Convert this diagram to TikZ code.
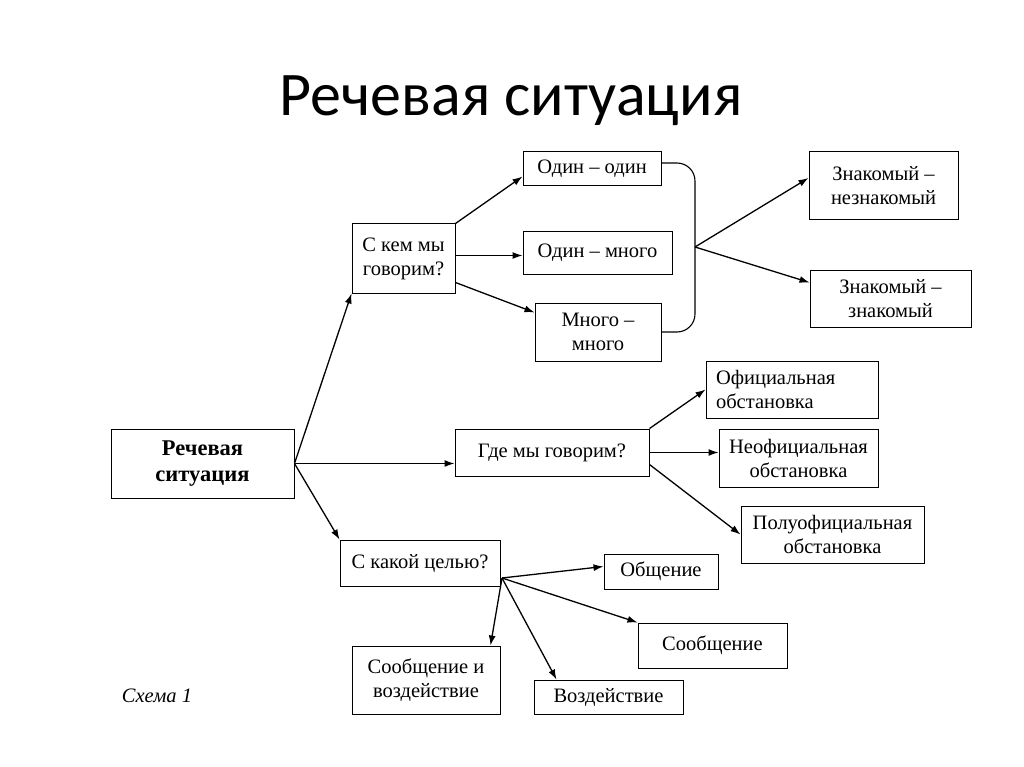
\documentclass[tikz,border=0pt]{standalone}
\usepackage{fontspec}
\setmainfont{Liberation Serif}
\newfontfamily\titlefont{Carlito}
\usetikzlibrary{arrows.meta,calc}
\begin{document}
\begin{tikzpicture}[x=1pt,y=-1pt,
  bx/.style={draw, line width=1pt, inner sep=2pt, align=center, font=\fontsize{20.5}{24}\selectfont},
  arr/.style={line width=1.3pt, -{Latex[length=10pt,width=7pt]}},
  ln/.style={line width=1.2pt}]
\useasboundingbox[fill=white] (0,0) rectangle (1024,767);
\node[font=\titlefont\fontsize{62}{70}\selectfont, anchor=base] (title) at (511,116) {Речевая ситуация};
\node[bx, minimum width=183pt, minimum height=69pt, font=\bfseries\fontsize{22.5}{26}\selectfont] (root) at (202.5,463.5) {Речевая\\ситуация};
\node[bx, minimum width=103pt, minimum height=69pt] (kem) at (403.5,258.5) {С кем мы\\говорим?};
\node[bx, minimum width=138pt, minimum height=34pt] (o1) at (592,169) {Один – один};
\node[bx, minimum width=149pt, minimum height=42pt] (o2) at (597.5,253) {Один – много};
\node[bx, minimum width=126pt, minimum height=58pt] (o3) at (598,332) {Много –\\много};
\node[bx, minimum width=149pt, minimum height=68pt] (z1) at (883.5,186) {Знакомый –\\незнакомый};
\node[bx, minimum width=161pt, minimum height=57pt] (z2) at (890.5,298.5) {Знакомый –\\знакомый};
\node[bx, minimum width=194pt, minimum height=47pt] (gde) at (552,452.5) {Где мы говорим?};
\node[bx, align=left, text width=152pt, inner xsep=10pt, minimum height=57pt] (of1) at (792,389.5) {Официальная\\обстановка};
\node[bx, minimum width=159pt, minimum height=58pt] (of2) at (798.5,458) {Неофициальная\\обстановка};
\node[bx, minimum width=183pt, minimum height=57pt] (of3) at (832.5,534.5) {Полуофициальная\\обстановка};
\node[bx, minimum width=160pt, minimum height=46pt] (cel) at (420,563) {С какой целью?};
\node[bx, minimum width=114pt, minimum height=35pt] (ob) at (661,571.5) {Общение};
\node[bx, minimum width=149pt, minimum height=45pt] (so) at (712.5,645.5) {Сообщение};
\node[bx, minimum width=148pt, minimum height=68pt] (siv) at (426,680) {Сообщение и\\воздействие};
\node[bx, minimum width=149pt, minimum height=34pt] (vo) at (608.5,697) {Воздействие};
\node[font=\itshape\fontsize{20.5}{24}\selectfont] (sch) at (157,696) {Схема 1};
% root connectors
\draw[arr] (root.east) -- (kem.south west);
\draw[arr] (root.east) -- (root.east -| gde.west);
\draw[arr] (root.east) -- (cel.north west);
% kem connectors
\draw[arr] (kem.north east) -- ([yshift=10pt]o1.south west);
\draw[arr] ([yshift=3pt]kem.east) -- ([yshift=3pt]kem.east -| o2.west);
\draw[arr] ([yshift=11pt]kem.south east) -- ([yshift=-10pt]o3.north west);
% bracket
\coordinate (br) at (695,247);
\draw[line width=1.1pt, rounded corners=18pt] ([yshift=6pt]o1.east) -- ([yshift=6pt]o1.east -| br) -- (o3.east -| br) -- (o3.east);
\draw[arr] (br) -- ([yshift=8pt]z1.west);
\draw[arr] (br) -- ([yshift=16pt]z2.west);
% gde connectors
\draw[arr] (gde.north east) -- (of1.west);
\draw[arr] (gde.east) -- (gde.east -| of2.west);
\draw[arr] ([yshift=-12pt]gde.east) -- (of3.west);
% cel connectors
\coordinate (ch) at (502,578);
\draw[arr] (ch) -- ([yshift=5pt]ob.west);
\draw[arr] (ch) -- (so.north west);
\draw[arr] (ch) -- ([xshift=-10pt]siv.north east);
\draw[arr] (ch) -- ([xshift=23pt]vo.north west);
\end{tikzpicture}
\end{document}
